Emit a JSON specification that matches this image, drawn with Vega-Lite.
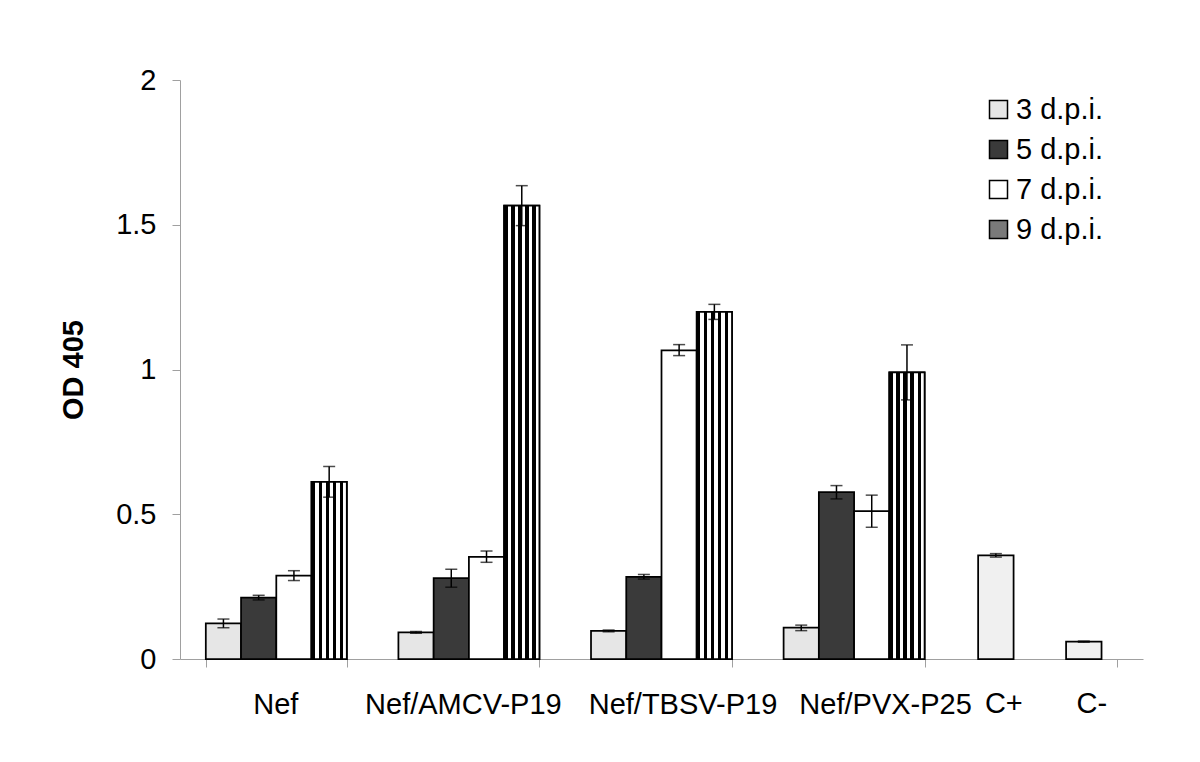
{
  "$schema": "https://vega.github.io/schema/vega-lite/v6.json",
  "autosize": {"type": "none"},
  "padding": {"left": 180, "top": 80, "right": 57, "bottom": 103},
  "width": 963,
  "height": 579,
  "background": "white",
  "config": {
    "font": "Liberation Sans",
    "view": {"stroke": null},
    "axis": {"grid": false, "domainColor": "#a0a0a0", "tickColor": "#a0a0a0", "labelColor": "black", "labelFontSize": 29, "labelFont": "Liberation Sans", "titleFont": "Liberation Sans", "titleColor": "black"}
  },
  "datasets": {
    "main": [
      {"group": "Nef", "dpi": "3 d.p.i.", "od": 0.123, "lo": 0.108, "hi": 0.138},
      {"group": "Nef", "dpi": "5 d.p.i.", "od": 0.212, "lo": 0.204, "hi": 0.220},
      {"group": "Nef", "dpi": "7 d.p.i.", "od": 0.288, "lo": 0.271, "hi": 0.305},
      {"group": "Nef", "dpi": "9 d.p.i.", "od": 0.612, "lo": 0.559, "hi": 0.665},
      {"group": "Nef/AMCV-P19", "dpi": "3 d.p.i.", "od": 0.092, "lo": 0.089, "hi": 0.095},
      {"group": "Nef/AMCV-P19", "dpi": "5 d.p.i.", "od": 0.279, "lo": 0.248, "hi": 0.310},
      {"group": "Nef/AMCV-P19", "dpi": "7 d.p.i.", "od": 0.353, "lo": 0.334, "hi": 0.373},
      {"group": "Nef/AMCV-P19", "dpi": "9 d.p.i.", "od": 1.566, "lo": 1.497, "hi": 1.635},
      {"group": "Nef/TBSV-P19", "dpi": "3 d.p.i.", "od": 0.097, "lo": 0.094, "hi": 0.100},
      {"group": "Nef/TBSV-P19", "dpi": "5 d.p.i.", "od": 0.284, "lo": 0.276, "hi": 0.292},
      {"group": "Nef/TBSV-P19", "dpi": "7 d.p.i.", "od": 1.066, "lo": 1.048, "hi": 1.086},
      {"group": "Nef/TBSV-P19", "dpi": "9 d.p.i.", "od": 1.199, "lo": 1.173, "hi": 1.225},
      {"group": "Nef/PVX-P25", "dpi": "3 d.p.i.", "od": 0.108, "lo": 0.098, "hi": 0.117},
      {"group": "Nef/PVX-P25", "dpi": "5 d.p.i.", "od": 0.576, "lo": 0.553, "hi": 0.599},
      {"group": "Nef/PVX-P25", "dpi": "7 d.p.i.", "od": 0.511, "lo": 0.455, "hi": 0.566},
      {"group": "Nef/PVX-P25", "dpi": "9 d.p.i.", "od": 0.990, "lo": 0.895, "hi": 1.085}
    ],
    "ctrl": [
      {"group": "C", "ctl": "C+", "od": 0.358, "lo": 0.352, "hi": 0.364},
      {"group": "C", "ctl": "C-", "od": 0.060, "lo": 0.058, "hi": 0.062}
    ]
  },
  "resolve": {"scale": {"xOffset": "independent"}},
  "layer": [
    {
      "data": {"name": "main"},
      "encoding": {
        "x": {
          "field": "group", "type": "nominal",
          "scale": {"domain": ["Nef", "Nef/AMCV-P19", "Nef/TBSV-P19", "Nef/PVX-P25", "C"], "paddingInner": 0.268, "paddingOuter": 0.134},
          "axis": {
            "title": null, "tickBand": "extent", "tickSize": 8, "labelAngle": 0, "labelPadding": 46,
            "labelBaseline": "alphabetic", "labelOverlap": false, "labelLimit": 400, "labelBound": false,
            "labelExpr": "datum.value === 'C' ? '' : datum.value",
            "encoding": {"labels": {"dx": {"condition": [
              {"test": "datum.value === 'Nef/PVX-P25'", "value": 31},
              {"test": "datum.value === 'Nef/TBSV-P19'", "value": 21},
              {"test": "datum.value === 'Nef/AMCV-P19'", "value": -6}
            ], "value": -1}}}
          }
        },
        "xOffset": {"field": "dpi", "type": "nominal", "scale": {"domain": ["3 d.p.i.", "5 d.p.i.", "7 d.p.i.", "9 d.p.i."], "paddingInner": 0, "paddingOuter": 0}}
      },
      "layer": [
        {
          "mark": {"type": "bar", "stroke": "black", "strokeWidth": 1.75},
          "encoding": {
            "y": {
              "field": "od", "type": "quantitative",
              "scale": {"domain": [0, 2], "nice": false},
              "axis": {"title": "OD 405", "titleFontSize": 29, "titleFontWeight": "bold", "titlePadding": 27, "values": [0, 0.5, 1, 1.5, 2], "format": ".1~f", "tickSize": 8, "labelPadding": 16}
            },
            "fill": {
              "field": "dpi", "type": "nominal",
              "scale": {
                "domain": ["3 d.p.i.", "5 d.p.i.", "7 d.p.i.", "9 d.p.i."],
                "range": ["#e6e6e6", "#3a3a3a", "#ffffff", "#7a7a7a"]
              },
              "legend": {
                "title": null, "orient": "none", "legendX": 804, "legendY": 15, "padding": 0,
                "symbolType": "square", "symbolSize": 324, "symbolStrokeColor": "black", "symbolStrokeWidth": 1.5, "symbolOpacity": 1,
                "labelFontSize": 29, "labelColor": "black", "labelFont": "Liberation Sans", "labelOffset": 3, "rowPadding": 10, "labelLimit": 300
              }
            }
          }
        },
        {
          "transform": [{"filter": "datum.dpi === '9 d.p.i.'"}],
          "mark": {"type": "bar", "stroke": "black", "strokeWidth": 1.75,
            "fill": {"gradient": "linear", "x1": 0, "y1": 0, "x2": 1, "y2": 0, "stops": [
              {"offset": 0, "color": "black"}, {"offset": 0.1, "color": "black"},
              {"offset": 0.1, "color": "white"}, {"offset": 0.2, "color": "white"},
              {"offset": 0.2, "color": "black"}, {"offset": 0.3, "color": "black"},
              {"offset": 0.3, "color": "white"}, {"offset": 0.4, "color": "white"},
              {"offset": 0.4, "color": "black"}, {"offset": 0.5, "color": "black"},
              {"offset": 0.5, "color": "white"}, {"offset": 0.6, "color": "white"},
              {"offset": 0.6, "color": "black"}, {"offset": 0.7, "color": "black"},
              {"offset": 0.7, "color": "white"}, {"offset": 0.8, "color": "white"},
              {"offset": 0.8, "color": "black"}, {"offset": 0.9, "color": "black"},
              {"offset": 0.9, "color": "white"}, {"offset": 1, "color": "white"}
            ]}},
          "encoding": {"y": {"field": "od", "type": "quantitative"}}
        },
        {
          "mark": {"type": "rule", "color": "black", "strokeWidth": 1.5},
          "encoding": {"y": {"field": "lo", "type": "quantitative"}, "y2": {"field": "hi"}}
        },
        {
          "mark": {"type": "tick", "color": "black", "size": 12, "thickness": 1.5, "orient": "horizontal"},
          "encoding": {"y": {"field": "lo", "type": "quantitative"}}
        },
        {
          "mark": {"type": "tick", "color": "black", "size": 12, "thickness": 1.5, "orient": "horizontal"},
          "encoding": {"y": {"field": "hi", "type": "quantitative"}}
        }
      ]
    },
    {
      "data": {"name": "ctrl"},
      "encoding": {
        "x": {"field": "group", "type": "nominal", "scale": {"domain": ["Nef", "Nef/AMCV-P19", "Nef/TBSV-P19", "Nef/PVX-P25", "C"], "paddingInner": 0.268, "paddingOuter": 0.134}},
        "xOffset": {"field": "ctl", "type": "nominal", "scale": {"domain": ["C+", "C-"], "paddingInner": 0.597, "paddingOuter": 0.1, "align": 0.11}}
      },
      "layer": [
        {
          "mark": {"type": "bar", "stroke": "black", "strokeWidth": 1.75, "fill": "#f0f0f0"},
          "encoding": {"y": {"field": "od", "type": "quantitative"}}
        },
        {
          "mark": {"type": "rule", "color": "black", "strokeWidth": 1.5},
          "encoding": {"y": {"field": "lo", "type": "quantitative"}, "y2": {"field": "hi"}}
        },
        {
          "mark": {"type": "tick", "color": "black", "size": 12, "thickness": 1.5, "orient": "horizontal"},
          "encoding": {"y": {"field": "lo", "type": "quantitative"}}
        },
        {
          "mark": {"type": "tick", "color": "black", "size": 12, "thickness": 1.5, "orient": "horizontal"},
          "encoding": {"y": {"field": "hi", "type": "quantitative"}}
        },
        {
          "mark": {"type": "text", "fontSize": 29, "font": "Liberation Sans", "color": "black", "align": "center", "baseline": "alphabetic", "dy": 54, "dx": 8},
          "encoding": {"y": {"datum": 0}, "text": {"field": "ctl"}}
        }
      ]
    }
  ]
}
